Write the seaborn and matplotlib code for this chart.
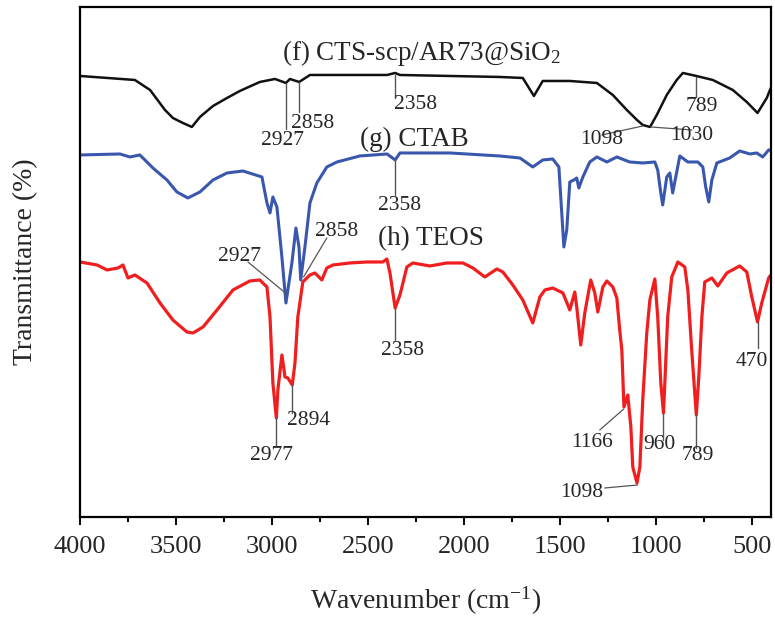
import numpy as np
import pandas as pd
import matplotlib
matplotlib.use("Agg")
import matplotlib.pyplot as plt
import seaborn as sns

# ---------------- data (wavenumber cm^-1, transmittance a.u.) ----------------
f_wn = [4000, 3714, 3635, 3557, 3516, 3464, 3417, 3375, 3307, 3234, 3167, 3063, 2984, 2927,
        2906, 2858, 2802, 2594, 2400, 2358, 2333, 2073, 1813, 1693, 1635, 1589, 1448, 1307,
        1224, 1151, 1098, 1068, 1030, 995, 943, 891, 859, 789, 703, 599, 526, 470, 422, 401]
f_t = [88.2, 87.4, 85.4, 81.4, 79.8, 78.8, 78.0, 80.0, 82.2, 83.8, 85.2, 87.0, 87.6, 86.8,
       87.6, 87.0, 88.4, 88.4, 88.4, 88.8, 88.4, 88.2, 88.0, 87.8, 84.2, 87.2, 87.2, 86.8,
       84.4, 81.4, 79.4, 78.4, 78.0, 80.4, 84.4, 87.4, 88.8, 88.2, 87.4, 85.4, 83.0, 80.8, 83.8, 85.8]

g_wn = [4000, 3792, 3740, 3688, 3620, 3547, 3495, 3438, 3375, 3307, 3234, 3151, 3052, 3026,
        3010, 2995, 2974, 2948, 2927, 2896, 2875, 2859, 2850, 2828, 2802, 2766, 2714, 2661,
        2542, 2400, 2358, 2333, 2073, 1813, 1708, 1641, 1589, 1537, 1505, 1490, 1479, 1464,
        1448, 1427, 1412, 1401, 1380, 1344, 1307, 1255, 1203, 1136, 1068, 1005, 990, 974,
        964, 943, 927, 912, 896, 875, 833, 781, 755, 740, 724, 708, 682, 615, 563, 510,
        474, 443, 412, 401]
g_t = [72.4, 72.6, 72.0, 72.4, 69.8, 67.4, 65.0, 63.8, 65.0, 67.4, 68.8, 69.2, 68.0, 62.8,
       60.8, 64.0, 62.0, 52.0, 42.8, 50.8, 57.8, 54.0, 47.4, 54.0, 62.8, 66.8, 70.0, 71.0,
       72.2, 72.6, 71.4, 72.8, 72.8, 72.2, 71.8, 70.0, 71.4, 71.6, 70.0, 60.8, 54.0, 57.4,
       67.0, 67.4, 67.8, 65.8, 68.0, 71.0, 72.0, 71.0, 72.0, 71.0, 70.8, 71.0, 69.4, 64.8,
       62.4, 68.0, 68.8, 64.8, 68.0, 72.2, 71.0, 71.0, 70.0, 66.0, 63.0, 67.4, 70.8, 71.8,
       73.2, 72.6, 72.8, 72.0, 73.4, 73.4]

h_wn = [4000, 3911, 3859, 3802, 3776, 3750, 3714, 3651, 3583, 3516, 3443, 3411, 3359, 3286,
        3203, 3115, 3063, 3026, 3010, 2995, 2977, 2969, 2948, 2932, 2917, 2894, 2880, 2865,
        2839, 2802, 2776, 2740, 2714, 2682, 2594, 2505, 2422, 2401, 2385, 2358, 2333, 2297,
        2266, 2177, 2089, 2005, 1953, 1891, 1828, 1797, 1745, 1693, 1641, 1604, 1578, 1537,
        1484, 1448, 1422, 1412, 1391, 1370, 1339, 1318, 1302, 1276, 1255, 1224, 1203, 1188,
        1177, 1166, 1146, 1130, 1120, 1098, 1083, 1068, 1047, 1031, 1005, 990, 974, 960, 953,
        938, 917, 885, 849, 833, 813, 789, 776, 760, 745, 708, 677, 630, 563, 526, 500, 470,
        448, 412, 401]
h_t = [51.0, 50.4, 49.4, 49.8, 50.4, 47.8, 48.4, 46.8, 42.8, 39.4, 37.0, 36.8, 38.0, 41.4,
       45.4, 47.2, 47.4, 46.0, 40.0, 26.8, 19.8, 25.4, 32.4, 28.0, 27.8, 26.4, 30.8, 40.0,
       47.0, 48.4, 48.8, 47.4, 49.8, 50.4, 50.8, 51.0, 51.0, 51.6, 48.8, 41.8, 44.4, 50.0,
       50.8, 50.2, 50.8, 50.8, 49.8, 48.0, 49.6, 49.0, 46.4, 43.4, 38.8, 44.0, 45.4, 45.8,
       44.8, 41.4, 45.0, 42.0, 34.4, 40.8, 47.4, 44.8, 41.0, 46.0, 47.2, 46.0, 43.8, 37.4,
       33.4, 22.0, 24.4, 18.0, 10.0, 6.8, 10.0, 23.4, 36.8, 43.4, 47.6, 40.0, 26.8, 20.8, 26.8,
       40.0, 48.0, 51.0, 50.0, 45.4, 33.4, 20.4, 28.0, 40.0, 47.0, 47.8, 46.2, 48.8, 50.2,
       49.0, 44.0, 39.0, 42.8, 47.8, 48.4]

series_names = ["(f) CTS-scp/AR73@SiO$_2$", "(g) CTAB", "(h) TEOS"]
series_colors = ["#111111", "#3A57AE", "#F01E1E"]

x_ticks = [4000, 3500, 3000, 2500, 2000, 1500, 1000, 500]

# peak annotations: (label, x_line, y_line_start, y_line_end, text_x, text_y)
vert_notes = [
    ("2927", 2927, 86.8, 77.5, 2943, 75.2),
    ("2858", 2858, 87.0, 81.0, 2786, 78.6),
    ("2358", 2358, 88.4, 83.8, 2250, 82.4),
    ("789", 789, 88.0, 84.0, 760, 82.0),
    ("2358", 2358, 71.4, 64.4, 2333, 62.2),
    ("2977", 2977, 19.8, 14.4, 3000, 12.2),
    ("2894", 2894, 26.4, 20.8, 2807, 19.2),
    ("2358", 2358, 41.8, 35.4, 2318, 33.2),
    ("470", 470, 39.0, 33.8, 500, 31.0),
    ("960", 960, 20.8, 15.4, 979, 14.4),
    ("789", 789, 20.4, 13.8, 781, 12.2),
]
# slanted leaders: (label, x0, y0, x1, y1, text_x, text_y)
slant_notes = [
    ("1098", 1281, 76.4, 1068, 78.2, 1281, 75.4),
    ("1030", 812, 77.4, 1026, 78.0, 812, 76.2),
    ("2927", 3125, 51.0, 2917, 44.4, 3167, 52.0),
    ("2858", 2714, 55.8, 2835, 48.0, 2662, 57.0),
    ("1166", 1292, 17.4, 1167, 21.6, 1333, 14.8),
    ("1098", 1266, 5.8, 1094, 6.4, 1385, 4.8),
]
# series titles: (x_left, y_baseline)
title_pos = [(2948, 91.4), (2542, 74.2), (2448, 54.4)]

# ---------------- plotting ----------------
sns.set_theme(style="ticks")
plt.rcParams["font.family"] = ["Liberation Serif", "DejaVu Serif"]
plt.rcParams["mathtext.fontset"] = "custom"
plt.rcParams["mathtext.rm"] = "Liberation Serif"
plt.rcParams["mathtext.it"] = "Liberation Serif:italic"

fig = plt.figure(figsize=(7.75, 6.17), dpi=100)
ax = fig.add_axes([0.1032, 0.1621, 0.8916, 0.8266])

frames = []
for name, wn, t in zip(series_names, [f_wn, g_wn, h_wn], [f_t, g_t, h_t]):
    frames.append(pd.DataFrame({"wn": wn, "T": t, "s": name}))
df = pd.concat(frames, ignore_index=True)

widths = [1.8, 2.2, 2.3]
for name, col, lw in zip(series_names, series_colors, widths):
    sns.lineplot(data=df[df["s"] == name], x="wn", y="T", color=col, lw=lw,
                 estimator=None, sort=False, ax=ax, legend=False,
                 solid_joinstyle="round", solid_capstyle="round")

fs_num = 15.5
lc = "#555555"
for lab, xl, y0, y1, tx, ty in vert_notes:
    ax.plot([xl, xl], [y0, y1], color=lc, lw=1.0)
    ax.text(tx, ty, lab, ha="center", va="center", fontsize=fs_num)
for lab, x0, y0, x1, y1, tx, ty in slant_notes:
    ax.plot([x0, x1], [y0, y1], color=lc, lw=0.9)
    ax.text(tx, ty, lab, ha="center", va="center", fontsize=fs_num)
for name, (tx, ty) in zip(series_names, title_pos):
    ax.text(tx, ty, name, ha="left", va="baseline", fontsize=19.5)

ax.set_xlim(4000, 400)
ax.set_ylim(0, 102)
ax.set_xticks(x_ticks)
ax.set_xticks([3750, 3250, 2750, 2250, 1750, 1250, 750], minor=True)
ax.set_yticks([])
ax.tick_params(axis="x", which="major", direction="out", length=6, width=1.4,
               labelsize=19, pad=8, color="black")
ax.tick_params(axis="x", which="minor", direction="out", length=3.5, width=1.4, color="black")
for sp in ax.spines.values():
    sp.set_linewidth(1.6)
    sp.set_color("black")
    sp.set_visible(True)
ax.set_xlabel("Wavenumber (cm$^{-1}$)", fontsize=20, labelpad=19)
ax.set_ylabel("Transmittance (%)", fontsize=20, labelpad=30)

fig.savefig("out.png", dpi=100, facecolor="white")
